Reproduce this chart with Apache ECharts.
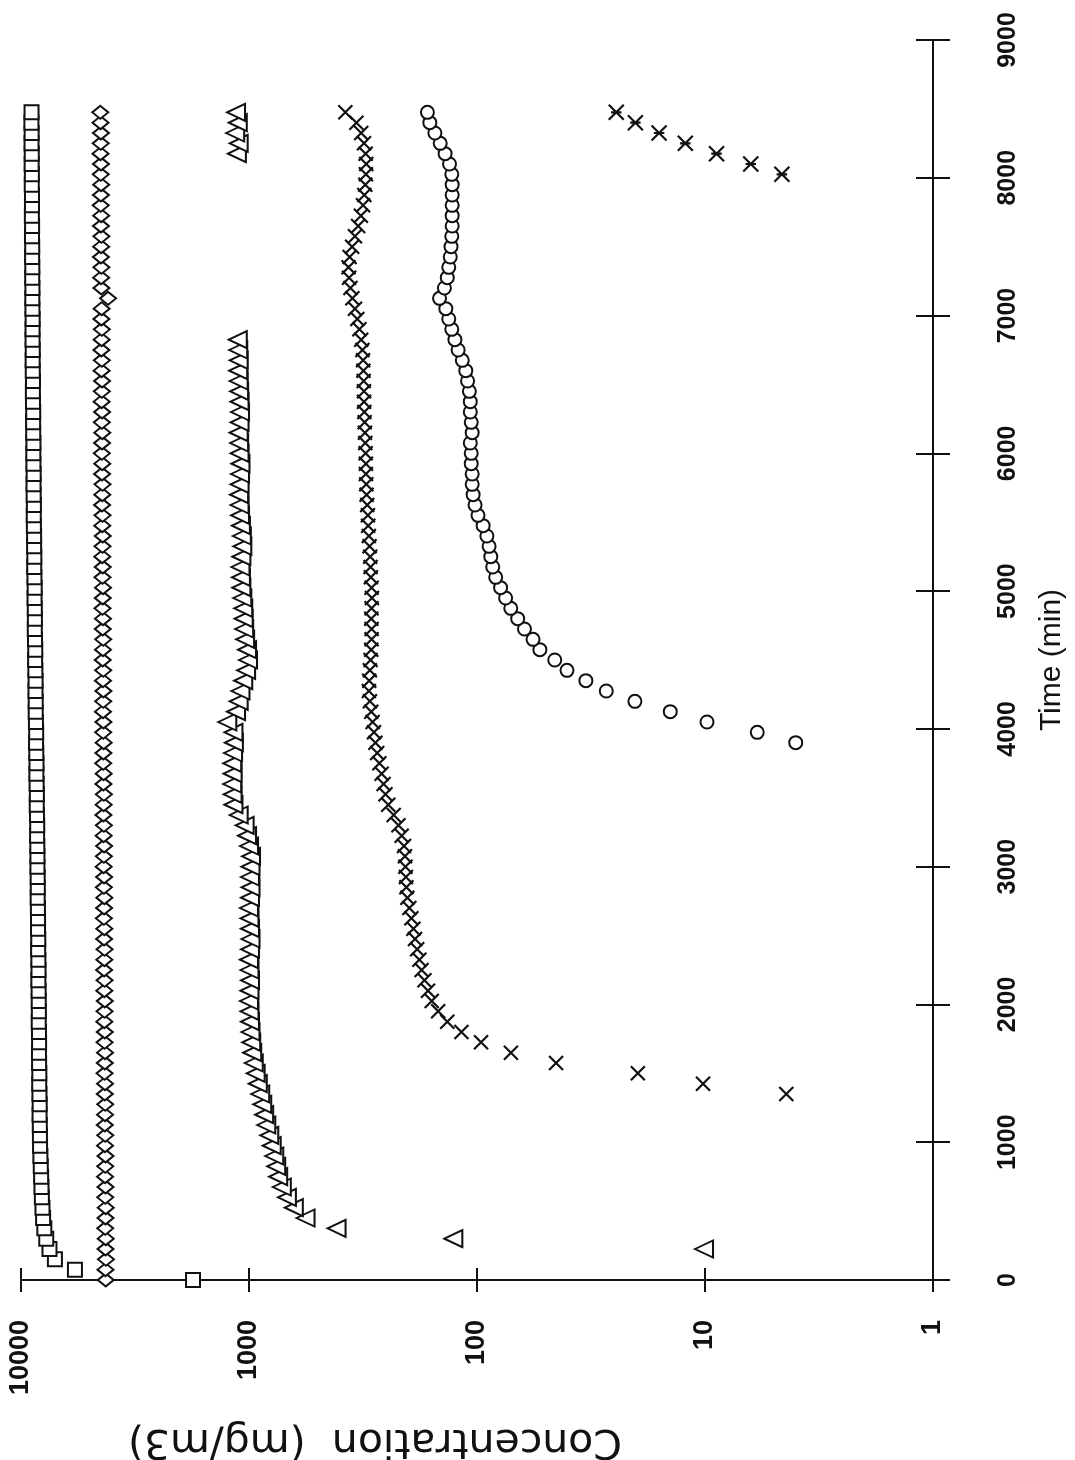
<!DOCTYPE html>
<html>
<head>
<meta charset="utf-8">
<script src="https://cdn.jsdelivr.net/npm/echarts@6/dist/echarts.min.js"></script>
<style>
  html, body { margin: 0; padding: 0; background: #fff; overflow: hidden; }
  #chart { width: 1075px; height: 1460px; }
</style>
</head>
<body>
<div id="chart"></div>
<script>
// Sampling times (min), one reading every 75 minutes
const times = [
  0, 75, 150, 225, 300, 375, 450, 525, 600, 675, 750, 825, 900, 975,
  1050, 1125, 1200, 1275, 1350, 1425, 1500, 1575, 1650, 1725, 1800, 1875, 1950, 2025,
  2100, 2175, 2250, 2325, 2400, 2475, 2550, 2625, 2700, 2775, 2850, 2925, 3000, 3075,
  3150, 3225, 3300, 3375, 3450, 3525, 3600, 3675, 3750, 3825, 3900, 3975, 4050, 4125,
  4200, 4275, 4350, 4425, 4500, 4575, 4650, 4725, 4800, 4875, 4950, 5025, 5100, 5175,
  5250, 5325, 5400, 5475, 5550, 5625, 5700, 5775, 5850, 5925, 6000, 6075, 6150, 6225,
  6300, 6375, 6450, 6525, 6600, 6675, 6750, 6825, 6900, 6975, 7050, 7125, 7200, 7275,
  7350, 7425, 7500, 7575, 7650, 7725, 7800, 7875, 7950, 8025, 8100, 8175, 8250, 8325,
  8400, 8475
];

// Axis ticks
const concTicks = [1, 10, 100, 1000, 10000];
const timeTicks = [0, 1000, 2000, 3000, 4000, 5000, 6000, 7000, 8000, 9000];

// Concentrations (mg/m3); each series starts at the given index of `times`
const squareStart = 0;
const squareConc = [
  1760, 5800, 7100, 7500, 7750, 7900, 8000, 8050, 8100, 8130, 8160, 8190, 8220, 8250,
  8260, 8270, 8290, 8280, 8300, 8320, 8310, 8330, 8340, 8330, 8340, 8360, 8350, 8360,
  8370, 8390, 8380, 8390, 8410, 8400, 8420, 8420, 8430, 8450, 8440, 8450, 8470, 8470,
  8480, 8500, 8490, 8510, 8530, 8520, 8540, 8560, 8550, 8570, 8590, 8580, 8600, 8620,
  8620, 8640, 8630, 8650, 8670, 8660, 8680, 8700, 8690, 8700, 8720, 8710, 8730, 8750,
  8740, 8760, 8760, 8780, 8790, 8780, 8800, 8810, 8800, 8820, 8830, 8820, 8840, 8850,
  8840, 8860, 8870, 8860, 8880, 8890, 8880, 8900, 8900, 8890, 8910, 8920, 8910, 8930,
  8920, 8940, 8930, 8950, 8940, 8960, 8950, 8950, 8970, 8960, 8980, 8970, 8990, 8980,
  9000, 8990
];

const diamondStart = 0;
const diamondConc = [
  4250, 4260, 4240, 4260, 4250, 4270, 4260, 4250, 4270, 4260, 4280, 4270, 4260, 4280,
  4270, 4290, 4280, 4270, 4290, 4280, 4300, 4290, 4280, 4300, 4290, 4310, 4300, 4290,
  4310, 4300, 4320, 4310, 4300, 4320, 4310, 4330, 4320, 4310, 4330, 4320, 4340, 4330,
  4320, 4340, 4330, 4350, 4340, 4330, 4350, 4340, 4360, 4350, 4340, 4360, 4350, 4370,
  4360, 4350, 4370, 4360, 4380, 4370, 4360, 4380, 4370, 4390, 4380, 4370, 4390, 4380,
  4400, 4390, 4380, 4400, 4390, 4410, 4400, 4390, 4410, 4400, 4420, 4410, 4400, 4420,
  4410, 4430, 4420, 4410, 4430, 4420, 4440, 4430, 4420, 4440, 4430, 4150, 4440, 4450,
  4440, 4460, 4450, 4440, 4460, 4450, 4470, 4460, 4450, 4470, 4460, 4480, 4470, 4460,
  4480, 4490
];

const triangleStart = 3;
const triangleConc = [
  10.1, 127, 413, 565, 636, 682, 718, 745, 760, 775, 795,
  815, 840, 858, 875, 893, 915, 935, 953, 968, 978, 985, 990, 995, 1000,
  995, 990, 995, 1000, 990, 985, 990, 995, 1000, 990, 985, 990, 985, 980,
  1000, 1020, 1045, 1110, 1170, 1180, 1185, 1180, 1185, 1175, 1165, 1170, 1245, 1140,
  1110, 1090, 1060, 1030, 1010, 1020, 1040, 1050, 1055, 1060, 1070, 1080, 1085, 1090,
  1080, 1070, 1075, 1085, 1095, 1100, 1105, 1100, 1095, 1090, 1100, 1105, 1110, 1100,
  1095, 1100, 1105, 1110, 1115, 1110, 1115, 1120
];

const triangleLateStart = 109;
const triangleLateConc = [1130, 1110, 1150, 1120, 1140];

const crossStart = 18;
const crossConc = [
  4.4, 10.2, 19.7, 45, 71, 96, 117, 135, 148, 158,
  164, 170, 175, 179, 183, 187, 190, 194, 198, 202, 204, 205, 206, 207,
  209, 214, 221, 232, 245, 252, 257, 262, 268, 274, 279, 283, 287, 291,
  295, 298, 297, 295, 293, 291, 290, 290, 291, 290, 289, 290, 292, 293,
  294, 296, 298, 300, 301, 303, 305, 306, 307, 307, 308, 309, 310, 311,
  312, 313, 313, 314, 315, 316, 318, 322, 328, 335, 343, 352, 359, 364,
  366, 362, 353, 343, 332, 323, 316, 312, 309, 307, 306, 308, 313, 322,
  338, 378
];

const circleStart = 52;
const circleConc = [
  4.0, 5.9, 9.8, 14.2, 20.3, 27.1, 33.3, 40.3, 45.6, 53.0, 56.8, 61.9,
  66.3, 71.1, 74.9, 78.8, 82.8, 85.3, 87.0, 88.5, 90.5, 94, 99, 102, 104, 105,
  105, 106, 106, 107, 105, 106, 107, 107, 108, 110, 112, 116, 121, 125,
  129, 133, 137, 146, 139, 135, 133, 131, 130, 129, 128.5, 128.5, 128.5, 128.5,
  128.5, 129, 132, 138, 145, 153, 161, 165
];

const starStart = 107;
const starConc = [4.6, 6.3, 8.9, 12.2, 15.9, 20.2, 24.5];

function pairs(start, values) {
  return values.map((c, i) => [c, times[start + i]]);
}

const ink = '#111';
const font = '"Liberation Sans", Arial, Helvetica, sans-serif';

function markerSeries(name, start, values, symbol, size, extra) {
  return Object.assign({
    name: name,
    type: 'scatter',
    data: pairs(start, values),
    symbol: symbol,
    symbolSize: size,
    itemStyle: { color: '#fff', borderColor: ink, borderWidth: 2, opacity: 1 },
    emphasis: { disabled: true },
    silent: true,
    animation: false
  }, extra || {});
}

const crossPath = 'path://M0,0L10,10M10,0L0,10';
const starPath = 'path://M0,0L10,10M10,0L0,10M1.5,5L8.5,5';

function concLabel(v) {
  const r = Math.round(v);
  return concTicks.indexOf(r) >= 0 ? String(r) : '';
}
function timeLabel(v) {
  return timeTicks.indexOf(Math.round(v)) >= 0 ? String(Math.round(v)) : '';
}

const baseX = {
  type: 'log',
  logBase: 10,
  min: concTicks[0],
  max: concTicks[concTicks.length - 1],
  inverse: true,
  position: 'bottom',
  splitLine: { show: false },
  minorTick: { show: false }
};
const baseY = {
  type: 'value',
  min: timeTicks[0],
  max: timeTicks[timeTicks.length - 1],
  interval: 1000,
  position: 'right',
  splitLine: { show: false }
};

const chart = echarts.init(document.getElementById('chart'), null, { renderer: 'canvas' });
chart.setOption({
  backgroundColor: '#fff',
  animation: false,
  grid: { left: 21, right: 135, top: 40, bottom: 180, containLabel: false },
  xAxis: [
    Object.assign({}, baseX, {
      axisLine: { show: true, lineStyle: { color: ink, width: 2 } },
      axisTick: { show: true, inside: false, length: 12, lineStyle: { color: ink, width: 2 } },
      axisLabel: {
        show: true, rotate: 90, margin: 40, formatter: concLabel,
        color: ink, fontFamily: font, fontWeight: 'bold', fontSize: 27
      }
    }),
    Object.assign({}, baseX, {
      axisLine: { show: false },
      axisTick: { show: true, inside: true, length: 12, lineStyle: { color: ink, width: 2 } },
      axisLabel: { show: false }
    })
  ],
  yAxis: [
    Object.assign({}, baseY, {
      name: 'Time (min)',
      nameLocation: 'middle',
      nameRotate: 90,
      nameGap: 104,
      nameTextStyle: { color: ink, fontFamily: font, fontSize: 30 },
      axisLine: { show: true, lineStyle: { color: ink, width: 2 } },
      axisTick: { show: true, inside: false, length: 17, lineStyle: { color: ink, width: 2 } },
      axisLabel: {
        show: true, rotate: 90, margin: 63, formatter: timeLabel,
        color: ink, fontFamily: font, fontWeight: 'bold', fontSize: 25
      }
    }),
    Object.assign({}, baseY, {
      axisLine: { show: false },
      axisTick: { show: true, inside: true, length: 17, lineStyle: { color: ink, width: 2 } },
      axisLabel: { show: false }
    })
  ],
  graphic: [{
    type: 'text',
    left: 128,
    top: 1420,
    rotation: Math.PI,
    originX: 247,
    originY: 19,
    style: {
      text: 'Concentration  (mg/m3)',
      font: '41px "DejaVu Sans", "Liberation Sans", sans-serif',
      fill: ink
    },
    silent: true
  }],
  series: [
    markerSeries('squares', squareStart, squareConc, 'rect', 14),
    markerSeries('diamonds', diamondStart, diamondConc, 'diamond', [16, 13]),
    markerSeries('triangles', triangleStart, triangleConc, 'triangle', [17, 18], { symbolRotate: 90 }),
    markerSeries('triangles-late', triangleLateStart, triangleLateConc, 'triangle', [17, 18], { symbolRotate: 90 }),
    markerSeries('crosses', crossStart, crossConc, crossPath, 14,
      { itemStyle: { color: 'none', borderColor: ink, borderWidth: 2.2, opacity: 1 } }),
    markerSeries('circles', circleStart, circleConc, 'circle', 13),
    markerSeries('stars', starStart, starConc, starPath, 15,
      { itemStyle: { color: 'none', borderColor: ink, borderWidth: 2.2, opacity: 1 } })
  ]
});
</script>
</body>
</html>
